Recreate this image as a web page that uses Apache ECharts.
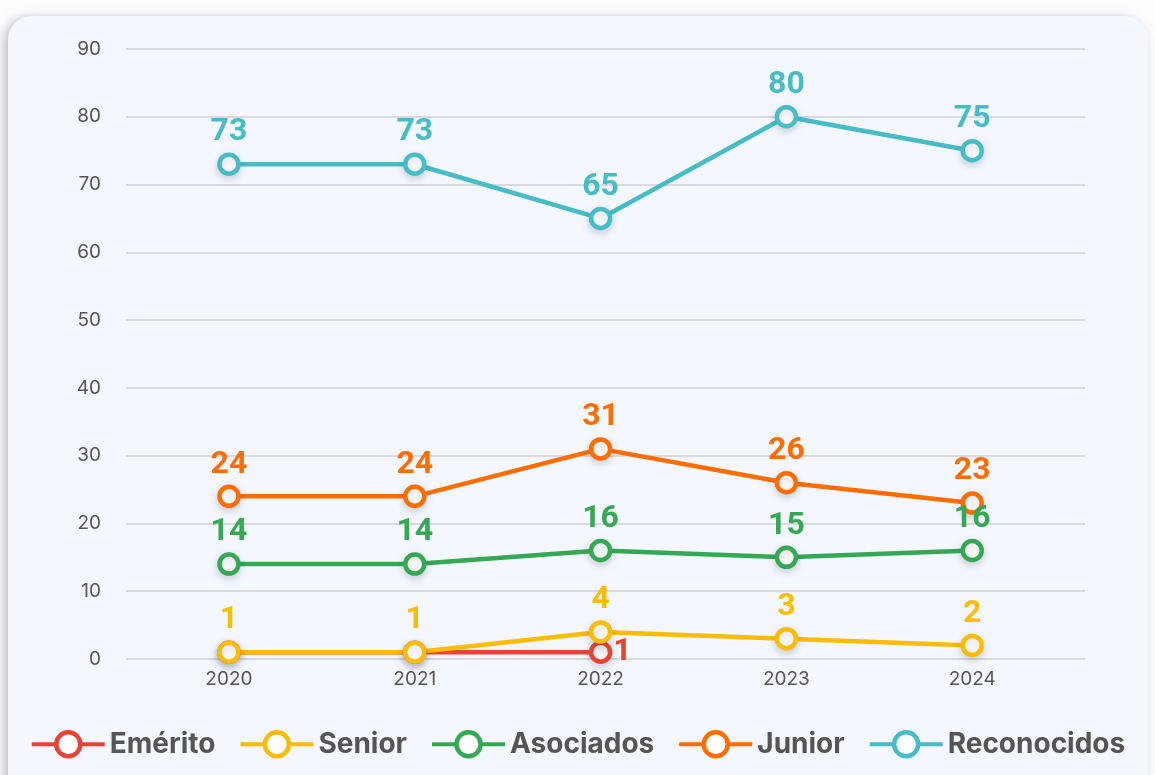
<!DOCTYPE html>
<html>
<head>
<meta charset="utf-8">
<script src="https://cdn.jsdelivr.net/npm/echarts@6/dist/echarts.min.js"></script>
<style>
  html, body { margin: 0; padding: 0; background: #ffffff; }
  #wrap { position: relative; width: 1155px; height: 775px; overflow: hidden; background: #fdfdfe; }
  #card {
    position: absolute; left: 8px; top: 16px; width: 1140px; height: 790px;
    background: #f4f7fe; border-radius: 24px;
    box-shadow: -4px 2px 12px rgba(60, 70, 90, 0.35);
  }
  #chart { position: absolute; left: 0; top: 0; width: 1155px; height: 775px; }
</style>
</head>
<body>
<div id="wrap">
  <div id="card"></div>
  <div id="chart"></div>
</div>
<script>
var years = [2020, 2021, 2022, 2023, 2024];
var seriesNames = ['Emérito', 'Senior', 'Asociados', 'Junior', 'Reconocidos'];
var emerito = [1, 1, 1, null, null];
var senior = [1, 1, 4, 3, 2];
var asociados = [14, 14, 16, 15, 16];
var junior = [24, 24, 31, 26, 23];
var reconocidos = [73, 73, 65, 80, 75];
var yTicks = [0, 10, 20, 30, 40, 50, 60, 70, 80, 90];
var colors = ['#ea4335', '#fbbc04', '#34a853', '#ff6d01', '#46bdc6'];

var numFont = "'Roboto', 'Liberation Sans', sans-serif";
var textFont = "'Inter', 'Noto Sans', sans-serif";

function pairs(values, labelIndex) {
    return values.map(function (v, i) {
        var item = { value: [years[i], v] };
        if (labelIndex !== undefined && i === labelIndex) {
            item.label = { show: true };
        }
        return item;
    });
}

function makeSeries(name, values, color, opts) {
    opts = opts || {};
    return {
        name: name,
        type: 'line',
        data: pairs(values, opts.labelIndex),
        symbol: 'circle',
        symbolSize: 19,
        showAllSymbol: true,
        lineStyle: { color: color, width: 4.5 },
        itemStyle: {
            color: '#ffffff', borderColor: color, borderWidth: 4.5,
            shadowColor: 'rgba(40, 50, 80, 0.18)', shadowBlur: 8, shadowOffsetY: 3
        },
        label: {
            show: opts.labelIndex === undefined,
            position: opts.labelPos || 'top',
            distance: opts.labelPos === 'right' ? 1 : 4,
            color: color,
            fontFamily: numFont,
            fontWeight: 'bold',
            fontSize: 32,
            formatter: function (p) { return p.value[1]; }
        },
        emphasis: { disabled: true }
    };
}

var chart = echarts.init(document.getElementById('chart'), null, { renderer: 'canvas' });
chart.setOption({
    animation: false,
    backgroundColor: 'transparent',
    color: colors,
    grid: { left: 126, right: 70, top: 49, bottom: 116 },
    xAxis: {
        type: 'value',
        min: 2019.446,
        max: 2024.607,
        axisLine: { show: false },
        axisTick: { show: false },
        splitLine: { show: false },
        axisLabel: {
            customValues: years,
            color: '#555555', fontSize: 19, fontFamily: textFont, margin: 11,
            formatter: function (v) { return String(v); }
        }
    },
    yAxis: {
        type: 'value',
        min: yTicks[0],
        max: yTicks[yTicks.length - 1],
        interval: 10,
        axisLine: { show: false },
        axisTick: { show: false },
        axisLabel: { color: '#555555', fontSize: 19, fontFamily: textFont, margin: 25 },
        splitLine: { lineStyle: { color: '#d9d9de', width: 2 } }
    },
    legend: {
        top: 725,
        left: 'center',
        itemWidth: 73,
        itemHeight: 30,
        itemGap: 23,
        data: seriesNames,
        lineStyle: { width: 4 },
        itemStyle: { borderWidth: 4.5 },
        textStyle: { color: '#555555', fontSize: 28, fontWeight: 'bold', fontFamily: textFont }
    },
    series: [
        makeSeries(seriesNames[0], emerito, colors[0], { labelIndex: 2, labelPos: 'right' }),
        makeSeries(seriesNames[1], senior, colors[1]),
        makeSeries(seriesNames[2], asociados, colors[2]),
        makeSeries(seriesNames[3], junior, colors[3]),
        makeSeries(seriesNames[4], reconocidos, colors[4])
    ]
});
</script>
</body>
</html>
